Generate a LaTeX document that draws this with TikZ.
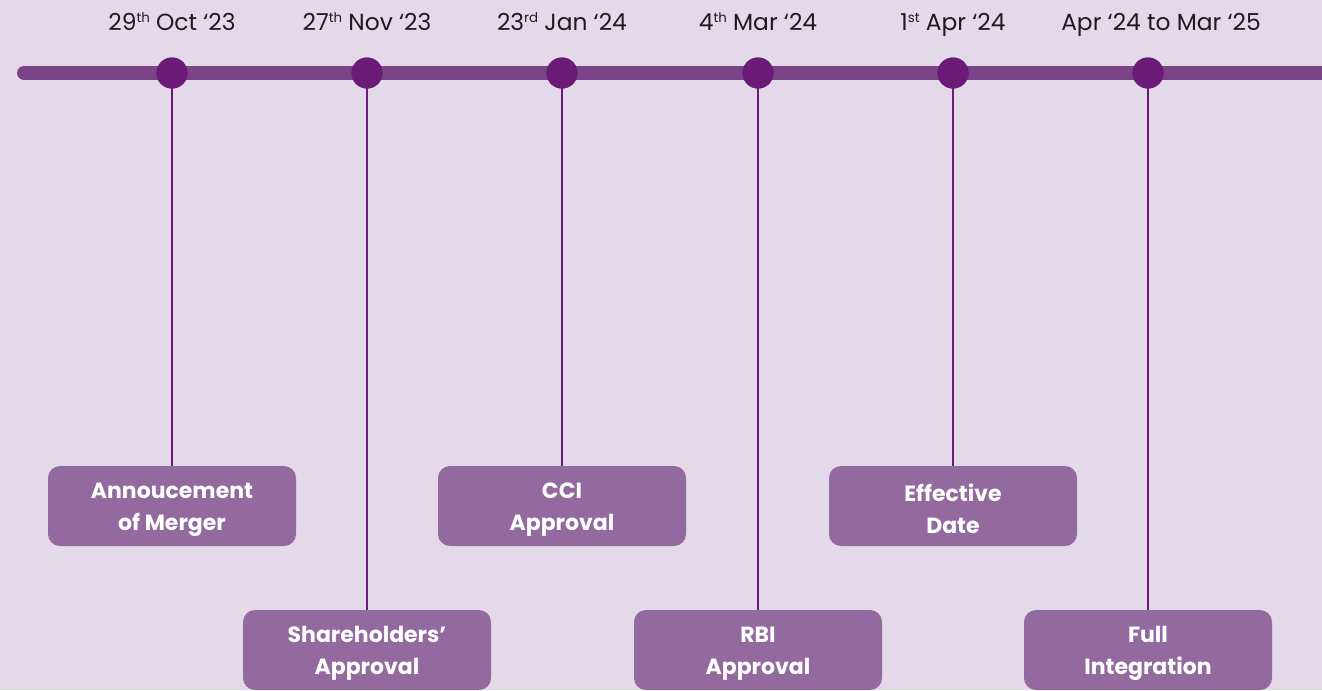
\documentclass[tikz,border=0pt]{standalone}
\usepackage{fontspec}
\setmainfont{Poppins}
\definecolor{bgcol}{HTML}{E4D9E8}
\definecolor{barcol}{HTML}{7B4488}
\definecolor{dotcol}{HTML}{6B1A76}
\definecolor{boxcol}{HTML}{926A9F}
\definecolor{datecol}{HTML}{1E1A20}
\newcommand\ordsup[1]{\raisebox{0.62ex}{\fontsize{10}{10}\selectfont #1}}
% uniform line height so every two-line label sits at the same place
\newcommand\boxstrut{\rule[-1pt]{0pt}{18.5pt}}
\tikzset{
  milestone/.style={circle, fill=dotcol, minimum size=31*0.75pt, inner sep=0pt},
  datelabel/.style={font=\fontsize{17.5}{20}\selectfont, text=datecol, inner sep=0pt, anchor=base},
  eventbox/.style={rounded corners=9pt, fill=boxcol, text=white, minimum width=248*0.75pt,
    minimum height=80*0.75pt, inner sep=0pt, align=center,
    font=\fontsize{16.5}{24}\selectfont\bfseries},
  stem/.style={draw=dotcol, line width=2.2*0.75pt},
  timebar/.style={draw=barcol, line width=14*0.75pt, line cap=round}
}
\begin{document}
\begin{tikzpicture}[x=0.75pt, y=-0.75pt]
  \fill[bgcol] (0,0) rectangle (1322,690);
  \useasboundingbox (0,0) rectangle (1322,690);

  % main time bar
  \coordinate (barL) at (24,73);
  \coordinate (barR) at (1345,73);
  \draw[timebar] (barL) -- (barR);

  % event boxes (upper row and lower row)
  \node[eventbox] (b1) at (172,506) {Annoucement\boxstrut\\of Merger\boxstrut};
  \node[eventbox] (b2) at (367,650) {Shareholders’\boxstrut\\Approval\boxstrut};
  \node[eventbox] (b3) at (562,506) {CCI\boxstrut\\Approval\boxstrut};
  \node[eventbox] (b4) at (758,650) {RBI\boxstrut\\Approval\boxstrut};
  \node[eventbox] (b5) at (953,506) {Effective\boxstrut\\Date\boxstrut};
  \node[eventbox] (b6) at (1148,650) {Full\boxstrut\\Integration\boxstrut};

  % milestone dots
  \foreach \i/\x in {1/172,2/367,3/562,4/758,5/953,6/1148}{
    \node[milestone] (m\i) at (\x,73) {};
  }

  % stems from dots down to boxes
  \foreach \i in {1,...,6}{
    \draw[stem] (m\i.center) -- (b\i.north);
  }
  \foreach \i in {1,...,6}{
    \node[milestone] at (m\i) {};
  }

  % dates above the bar
  \node[datelabel] (d1) at (172,30) {29\ordsup{th} Oct ‘23};
  \node[datelabel] (d2) at (367,30) {27\ordsup{th} Nov ‘23};
  \node[datelabel] (d3) at (562,30) {23\ordsup{rd} Jan ‘24};
  \node[datelabel] (d4) at (758,30) {4\ordsup{th} Mar ‘24};
  \node[datelabel] (d5) at (953,30) {1\ordsup{st} Apr ‘24};
  \node[datelabel] (d6) at (1161,30) {Apr ‘24 to Mar ‘25};
\end{tikzpicture}
\end{document}
